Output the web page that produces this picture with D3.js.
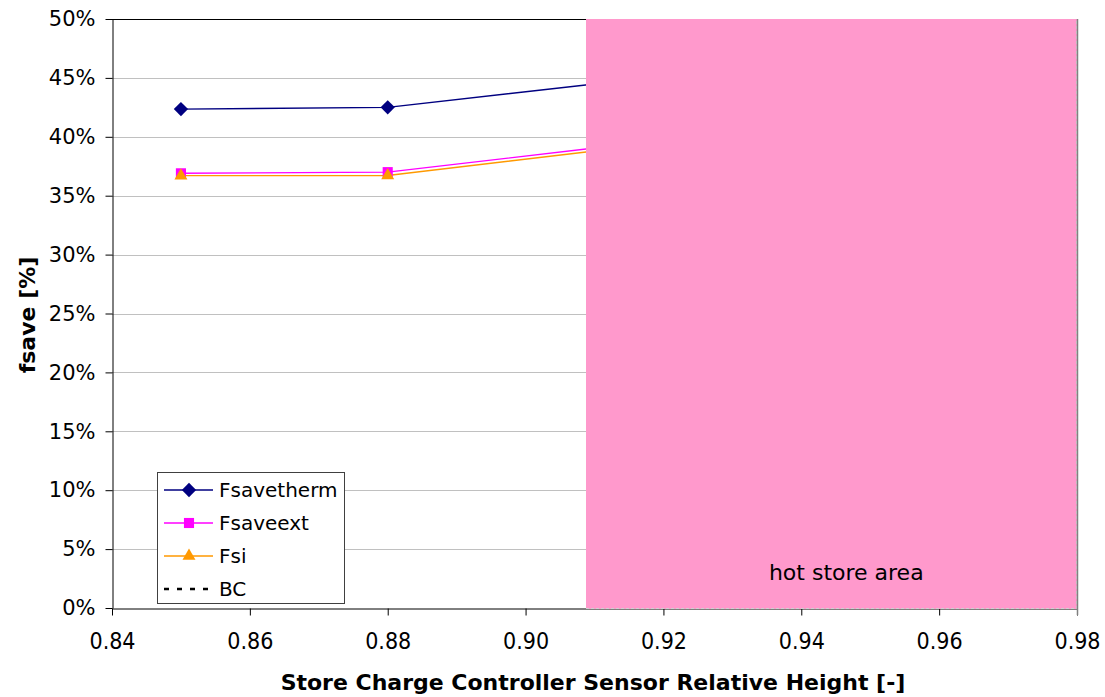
<!DOCTYPE html>
<html>
<head>
<meta charset="utf-8">
<script src="https://d3js.org/d3.v7.min.js"></script>
<style>
    body { margin: 0; background: #fff; }
    #chart_svg { display: block; }
    .tick_label { font-family: "DejaVu Sans", Verdana, sans-serif; fill: #000; }
    .tick_label_narrow { font-family: "DejaVu Sans Condensed", "DejaVu Sans", sans-serif; fill: #000; }
    .axis_title { font-family: "DejaVu Sans", Verdana, sans-serif; font-weight: bold; fill: #000; }
</style>
</head>
<body>
<svg id="chart_svg" width="1105" height="697"></svg>
<script>
    // sensor relative height (x) and the three saving fractions
    let heights = [0.85, 0.88, 0.91];
    let fsavetherm = [0.4235, 0.4250, 0.4448];
    let fsaveext = [0.3690, 0.3700, 0.3905];
    let fsi = [0.3670, 0.3672, 0.3880];

    let xTicks = [0.84, 0.86, 0.88, 0.90, 0.92, 0.94, 0.96, 0.98];
    let yTicks = [0, 0.05, 0.10, 0.15, 0.20, 0.25, 0.30, 0.35, 0.40, 0.45, 0.50];

    let hotStore = [0.9087, 0.98];

    let legendNames = ['Fsavetherm', 'Fsaveext', 'Fsi', 'BC'];

    let series = [
        {name: 'Fsavetherm', values: fsavetherm, color: '#000080', symbol: d3.symbolDiamond2, size: 130},
        {name: 'Fsaveext', values: fsaveext, color: '#ff00ff', symbol: d3.symbolSquare2, size: 130},
        {name: 'Fsi', values: fsi, color: '#ff9900', symbol: d3.symbolTriangle2, size: 120}
    ];

    let svg = d3.select('#chart_svg');

    let x = d3.scaleLinear().domain([0.84, 0.98]).range([112, 1077]);
    let y = d3.scaleLinear().domain([0, 0.5]).range([608, 19]);

    // grid lines
    svg.append('g')
        .selectAll('line')
        .data(yTicks.slice(1, -1))
        .enter().append('line')
        .attr('x1', x(0.84)).attr('x2', x(0.98))
        .attr('y1', d => Math.round(y(d)) + 0.5)
        .attr('y2', d => Math.round(y(d)) + 0.5)
        .attr('stroke', '#c0c0c0')
        .attr('stroke-width', 1);

    // top border
    svg.append('line')
        .attr('x1', x(0.84)).attr('x2', x(0.98))
        .attr('y1', Math.round(y(0.5)) + 0.5).attr('y2', Math.round(y(0.5)) + 0.5)
        .attr('stroke', '#000');

    // series
    let line = d3.line()
        .x(d => x(d[0]))
        .y(d => y(d[1]));

    series.forEach(function (s) {
        let pts = heights.map((h, i) => [h, s.values[i]]);
        svg.append('path')
            .attr('d', line(pts))
            .attr('fill', 'none')
            .attr('stroke', s.color)
            .attr('stroke-width', 1.4);
    });

    series.forEach(function (s) {
        let pts = heights.map((h, i) => [h, s.values[i]]);
        svg.append('g')
            .selectAll('path')
            .data(pts)
            .enter().append('path')
            .attr('d', d3.symbol().type(s.symbol).size(s.size))
            .attr('transform', d => 'translate(' + x(d[0]) + ',' + y(d[1]) + ')')
            .attr('fill', s.color)
            .attr('stroke', 'none');
    });

    // axes
    let yAxis = svg.append('g')
        .attr('transform', 'translate(' + (x(0.84) + 0.5) + ',0)')
        .call(d3.axisLeft(y).tickValues(yTicks).tickFormat(d3.format('.0%')).tickSizeInner(7).tickSizeOuter(0).tickPadding(10));
    yAxis.selectAll('text')
        .attr('class', 'tick_label')
        .style('font-size', '21px');
    yAxis.selectAll('line, path').attr('stroke', '#000');

    let xAxis = svg.append('g')
        .attr('transform', 'translate(0,' + (y(0) + 0.5) + ')')
        .call(d3.axisBottom(x).tickValues(xTicks).tickFormat(d3.format('.2f')).tickSizeInner(7).tickSizeOuter(0).tickPadding(17));
    xAxis.selectAll('text')
        .attr('class', 'tick_label_narrow')
        .style('font-size', '23px');
    xAxis.selectAll('line, path').attr('stroke', '#000');

    // hot store area
    let hx0 = Math.round(x(hotStore[0]));
    let hx1 = Math.round(x(hotStore[1]));
    let hy0 = Math.round(y(0.5));
    let hy1 = Math.round(y(0));
    svg.append('rect')
        .attr('x', hx0).attr('y', hy0)
        .attr('width', hx1 - hx0).attr('height', hy1 - hy0 + 1)
        .attr('fill', '#ff99cc');
    svg.append('path')
        .attr('d', 'M' + hx0 + ',' + (hy1 + 0.5) + 'H' + (hx1 - 0.5) + 'V' + hy0)
        .attr('fill', 'none')
        .attr('stroke', '#d0d0d0')
        .attr('stroke-dasharray', '3,2');
    svg.append('line')
        .attr('x1', hx1 + 0.5).attr('x2', hx1 + 0.5)
        .attr('y1', hy0).attr('y2', hy1 + 7)
        .attr('stroke', '#808080')
        .attr('stroke-width', 1.5);
    svg.append('text')
        .attr('class', 'tick_label')
        .attr('x', (x(hotStore[0]) + x(hotStore[1])) / 2 + 15)
        .attr('y', 580)
        .attr('text-anchor', 'middle')
        .style('font-size', '22px')
        .text('hot store area');

    // axis titles
    svg.append('text')
        .attr('class', 'axis_title')
        .attr('x', 593)
        .attr('y', 690)
        .attr('text-anchor', 'middle')
        .style('font-size', '22px')
        .text('Store Charge Controller Sensor Relative Height [-]');

    svg.append('text')
        .attr('class', 'axis_title')
        .attr('transform', 'translate(35,315) rotate(-90)')
        .attr('text-anchor', 'middle')
        .style('font-size', '22px')
        .text('fsave [%]');

    // legend
    let legend = svg.append('g');
    legend.append('rect')
        .attr('x', 157.5).attr('y', 472.5)
        .attr('width', 187).attr('height', 131)
        .attr('fill', '#fff')
        .attr('stroke', '#404040');

    let legendRows = legend.selectAll('g')
        .data(legendNames)
        .enter().append('g')
        .attr('transform', (d, i) => 'translate(0,' + (490 + i * 33) + ')');

    legendRows.append('line')
        .attr('x1', 164).attr('x2', 213)
        .attr('y1', 0).attr('y2', 0)
        .attr('stroke', (d, i) => i < 3 ? series[i].color : '#000')
        .attr('stroke-width', (d, i) => i < 3 ? 1.4 : 2.5)
        .attr('stroke-dasharray', (d, i) => i < 3 ? null : '5,8');

    legendRows.filter((d, i) => i < 3).append('path')
        .attr('d', (d, i) => d3.symbol().type(series[i].symbol).size(series[i].size)())
        .attr('transform', 'translate(189,0)')
        .attr('fill', (d, i) => series[i].color);

    legendRows.append('text')
        .attr('class', 'tick_label')
        .attr('x', 219)
        .attr('y', 7)
        .style('font-size', '20px')
        .text(d => d);
</script>
</body>
</html>
